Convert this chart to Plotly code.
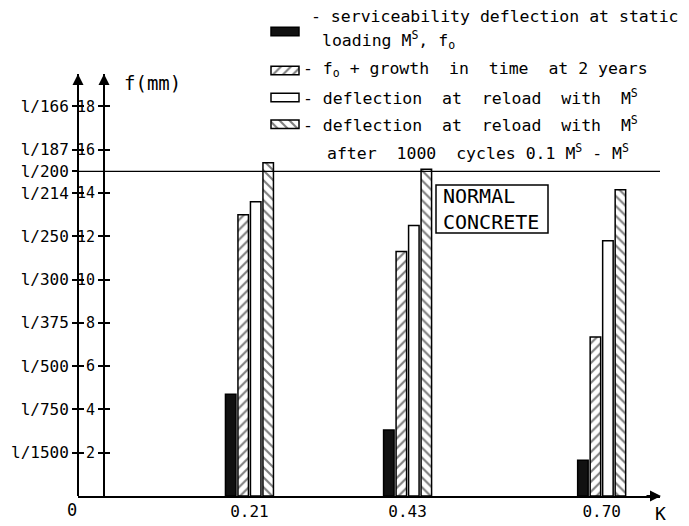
import plotly.graph_objects as go

# ---------------- data ----------------
K_values = [0.21, 0.43, 0.70]
K_labels = ["0.21", "0.43", "0.70"]

f_static = [4.7, 3.05, 1.65]          # serviceability deflection f0
f_growth = [13.0, 11.3, 7.35]         # f0 + growth in time at 2 years
f_reload = [13.6, 12.5, 11.8]         # deflection at reload with Ms
f_cycles = [15.4, 15.1, 14.15]        # after 1000 cycles

f_ticks = [2, 4, 6, 8, 10, 12, 14, 16, 18]
f_tick_labels = [str(v) for v in f_ticks]
span_ticks = [2, 4, 6, 8, 10, 12, 14, 15, 16, 18]
span_tick_labels = ["l/1500", "l/750", "l/500", "l/375", "l/300", "l/250",
                    "l/214", "l/200", "l/187", "l/166"]
limit_f = 15  # l/200

series_names = [
    "serviceability deflection at static loading M<sup>S</sup>, f<sub>o</sub>",
    "f<sub>o</sub> + growth in time at 2 years",
    "deflection at reload with M<sup>S</sup>",
    "deflection at reload with M<sup>S</sup> after 1000 cycles 0.1 M<sup>S</sup> - M<sup>S</sup>",
]

# ---------------- layout helpers (screen pixels -> figure coords) ----------------
OFF = 8                      # page body margin
W, H = 689 - OFF, 526 - OFF
PLOT_L, PLOT_R, PLOT_B = 78, 660, 496   # screen px
ML, MR, MT, MB = PLOT_L - OFF, W - (PLOT_R - OFF), 0, H - (PLOT_B - OFF)
PW, PH = W - ML - MR, H - MT - MB
FONT = "DejaVu Sans Mono, Liberation Mono, monospace"


def px_x(px):
    return (px - OFF - ML) / PW


def px_y(py):
    return (H - MB - (py - OFF)) / PH


Y_TOP_PX = 74
x_per_px = 1 / 718.8
x0_px = 98.5
x_range = [(PLOT_L - x0_px) * x_per_px, (PLOT_R - x0_px) * x_per_px]
y_dom_top = px_y(Y_TOP_PX)
y_range = [0, (PLOT_B - Y_TOP_PX) / 21.64]

pitch = 12.5 * x_per_px
bw = 10.5 * x_per_px

styles = [
    dict(marker=dict(color="#111111", line=dict(color="black", width=1.5))),
    dict(marker=dict(color="white", line=dict(color="black", width=1.5),
                     pattern=dict(shape="/", fgcolor="black", bgcolor="white",
                                  size=7, solidity=0.3))),
    dict(marker=dict(color="white", line=dict(color="black", width=1.5))),
    dict(marker=dict(color="white", line=dict(color="black", width=1.5),
                     pattern=dict(shape="\\", fgcolor="black", bgcolor="white",
                                  size=7, solidity=0.3))),
]
series = [f_static, f_growth, f_reload, f_cycles]

fig = go.Figure()
for i, (vals, st) in enumerate(zip(series, styles)):
    fig.add_trace(go.Bar(
        x=K_values, y=vals, name=series_names[i],
        width=bw, offset=(i - 2) * pitch + (pitch - bw) / 2,
        showlegend=False, xaxis="x", yaxis="y", **st))

# legend swatches drawn as small bars in their own hidden axes
LEG_ROWS_PX = [31.5, 70.5, 97.5, 124.2]
for i, st in enumerate(styles):
    fig.add_trace(go.Bar(
        x=[1], y=[LEG_ROWS_PX[i]], base=0, orientation="h", width=8.5,
        showlegend=False, hoverinfo="skip", xaxis="x2", yaxis="y5", **st))

axis_common = dict(range=y_range, domain=[0, y_dom_top], showgrid=False,
                   zeroline=False, automargin=False,
                   tickcolor="black", tickwidth=1.5, ticklen=5, ticks="outside")
num_font = dict(family=FONT, size=15, color="black")
span_font = dict(family=FONT, size=16, color="black")
yaxis_pos = px_x(104)

fig.update_layout(
    width=W, height=H,
    margin=dict(l=ML, r=MR, t=MT, b=MB),
    paper_bgcolor="white", plot_bgcolor="white",
    barmode="overlay",
    xaxis=dict(range=x_range, domain=[0, 1], anchor="y", showgrid=False,
               zeroline=False, showline=True, linecolor="black", linewidth=2,
               automargin=False,
               tickvals=K_values, ticktext=K_labels, ticks="",
               tickfont=dict(family=FONT, size=16, color="black")),
    yaxis=dict(anchor="free", position=yaxis_pos, side="left", showline=True,
               linecolor="black", linewidth=2, tickvals=f_ticks,
               ticktext=f_tick_labels, tickfont=num_font,
               ticklabelstandoff=0, **axis_common),
    yaxis2=dict(anchor="free", position=yaxis_pos, side="right", overlaying="y",
                showline=False, tickvals=f_ticks, showticklabels=False,
                **axis_common),
    yaxis3=dict(anchor="free", position=0, side="left", overlaying="y",
                showline=True, linecolor="black", linewidth=2,
                tickvals=span_ticks, ticktext=span_tick_labels,
                tickfont=span_font, ticklabelstandoff=0, **axis_common),
    yaxis4=dict(anchor="free", position=0, side="right", overlaying="y",
                showline=False, tickvals=f_ticks, showticklabels=False,
                **axis_common),
    xaxis2=dict(domain=[px_x(268.2), px_x(301.8)], range=[-0.1, 1.1],
                anchor="y5", visible=False, automargin=False),
    yaxis5=dict(domain=[px_y(136), px_y(20)], range=[136, 20], anchor="x2",
                visible=False, automargin=False),
)

# invisible traces to make overlay axes render
for ax in ["y2", "y3", "y4"]:
    fig.add_trace(go.Scatter(x=[None], y=[None], xaxis="x", yaxis=ax,
                             showlegend=False, hoverinfo="skip"))

shapes = [
    dict(type="line", xref="paper", yref="y", x0=px_x(78), x1=px_x(660),
         y0=limit_f, y1=limit_f, line=dict(color="black", width=1.3)),
    dict(type="rect", xref="paper", yref="paper", x0=px_x(436), x1=px_x(548),
         y0=px_y(233), y1=px_y(185), line=dict(color="black", width=1.5)),
]
fig.update_layout(shapes=shapes)

ann = []
# axis arrows
for xp in [78, 104]:
    ann.append(dict(xref="paper", yref="paper", x=px_x(xp), y=px_y(Y_TOP_PX),
                    ax=0, ay=16, text="", showarrow=True, arrowhead=2,
                    arrowsize=1.1, arrowwidth=2, arrowcolor="black"))
ann.append(dict(xref="paper", yref="paper", x=px_x(661), y=px_y(496),
                ax=-16, ay=0, text="", showarrow=True, arrowhead=2,
                arrowsize=1.1, arrowwidth=2, arrowcolor="black"))


def txt(s, xp, yp, size=16.5, anchor="left"):
    ann.append(dict(xref="paper", yref="paper", x=px_x(xp), y=px_y(yp),
                    text=s, showarrow=False, xanchor=anchor, yanchor="middle",
                    align="left",
                    font=dict(family=FONT, size=size, color="black")))


NB = "\u00a0"
txt("f(mm)", 122, 83, 19)
txt("0", 72, 510, 17, "center")
txt("K", 660, 513, 18, "center")
txt("NORMAL<br>CONCRETE", 441, 209, 20)

txt("- serviceability deflection at static", 309, 16)
txt("loading M<sup>S</sup>, f<sub>o</sub>", 320, 40)
txt("- f<sub>o</sub> + growth" + NB + " in" + NB + " time" + NB + " at 2 years", 301, 69)
txt("- deflection" + NB + " at" + NB + " reload" + NB + " with" + NB + " M<sup>S</sup>", 301, 97)
txt("- deflection" + NB + " at" + NB + " reload" + NB + " with" + NB + " M<sup>S</sup>", 301, 124)
txt("after" + NB + " 1000" + NB + " cycles 0.1 M<sup>S</sup> - M<sup>S</sup>", 325, 152)

fig.update_layout(annotations=ann)

fig.write_html("out.html")
